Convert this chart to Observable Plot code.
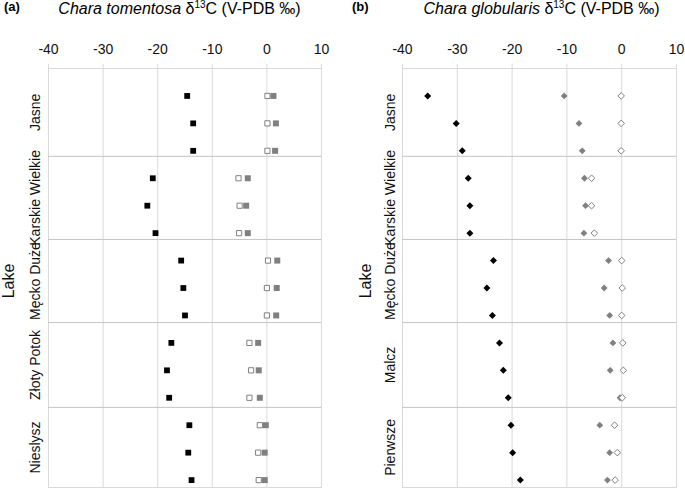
<!DOCTYPE html>
<html><head><meta charset="utf-8">
<script src="https://cdn.jsdelivr.net/npm/d3@7"></script>
<script src="https://cdn.jsdelivr.net/npm/@observablehq/plot@0.6"></script>
<style>
body{margin:0;background:#fff;font-family:"Liberation Sans",Arial,sans-serif;color:#000;}
#wrap{position:relative;width:685px;height:491px;overflow:hidden;background:#fff;}
.lab{position:absolute;font-weight:bold;font-size:13px;line-height:13px;}
.ttl{position:absolute;font-size:16px;line-height:16px;text-align:center;width:320px;white-space:nowrap;}
.ttl .sup{font-size:10px;position:relative;top:-6px;}
.panel{position:absolute;top:24px;}
</style></head><body>
<div id="wrap"></div>
<script>
// ---- data ----
const panelLabels = ["(a)", "(b)"];
const species = ["Chara tomentosa", "Chara globularis"];
const titleRest = "δ13C (V-PDB ‰)";
const lakeTitle = "Lake";
const lakesA = ["Jasne", "Karskie Wielkie", "Męcko Duże", "Złoty Potok", "Nieslysz"];
const lakesB = ["Jasne", "Karskie Wielkie", "Męcko Duże", "Malcz", "Pierwsze"];
const xTicks = [-40, -30, -20, -10, 0, 10];
// Chara tomentosa (three samples per lake)
const tomBlack = [-14.6, -13.5, -13.5, -20.9, -21.9, -20.4, -15.7, -15.3, -15.0, -17.5, -18.3, -17.9, -14.2, -14.4, -13.8];
const tomGray  = [1.2, 1.65, 1.5, -3.5, -3.8, -3.5, 1.9, 1.8, 1.7, -1.6, -1.5, -1.3, -0.2, -0.4, -0.4];
const tomWhite = [0.1, 0.1, 0.1, -5.2, -5.0, -5.1, 0.2, 0.0, 0.0, -3.2, -2.9, -3.2, -1.3, -1.6, -1.5];
// Chara globularis
const gloBlack = [-35.4, -30.2, -29.1, -28.0, -27.7, -27.7, -23.4, -24.6, -23.6, -22.3, -21.6, -20.7, -20.2, -19.9, -18.5];
const gloGray  = [-10.5, -7.8, -7.2, -6.8, -6.6, -6.9, -2.4, -3.2, -2.2, -1.6, -2.1, -0.3, -4.0, -2.2, -2.6];
const gloWhite = [-0.1, -0.1, -0.1, -5.5, -5.5, -5.0, 0.0, 0.1, 0.0, 0.2, 0.3, 0.1, -1.3, -0.8, -1.2];
// y layout in sample-row units: band edges between lakes
const lakeEdges = [-1, 2.2, 5.23, 8.26, 11.35, 14.27];

// ---- symbols ----
const squareSym = (half) => ({draw(ctx){ ctx.moveTo(-half,-half); ctx.lineTo(half,-half); ctx.lineTo(half,half); ctx.lineTo(-half,half); ctx.closePath(); }});
const diamondSym = (h) => ({draw(ctx){ ctx.moveTo(0,-h); ctx.lineTo(h,0); ctx.lineTo(0,h); ctx.lineTo(-h,0); ctx.closePath(); }});

const GRAY = "#808080";
const GRID = "#d9d9d9";
const SEP = "#c4c4c4";

function panel(o) {
  const rows = d3.range(o.black.length).map(i => ({i, black: o.black[i], gray: o.gray[i], white: o.white[i]}));
  const bands = o.lakes.map((name, k) => ({name, y: (lakeEdges[k] + lakeEdges[k + 1]) / 2}));
  const mid = (lakeEdges[0] + lakeEdges[lakeEdges.length - 1]) / 2;
  const whiteMark = Plot.dot(rows, {x: "white", y: "i", symbol: o.symW, r: 3, fill: "#fff", stroke: GRAY, strokeWidth: 1});
  const grayMark = Plot.dot(rows, {x: "gray", y: "i", symbol: o.symG, r: 3, fill: GRAY, stroke: "none"});
  return Plot.plot({
    width: o.width, height: 467,
    marginLeft: o.marginLeft, marginRight: o.marginRight, marginTop: 44, marginBottom: 4,
    style: {fontFamily: '"Liberation Sans", Arial, sans-serif', fontSize: "14px", background: "#fff", color: "#000"},
    x: {domain: [-40, 10], axis: null},
    y: {domain: [lakeEdges[0], lakeEdges[lakeEdges.length - 1]], reverse: true, axis: null},
    marks: [
      Plot.ruleX(xTicks, {stroke: GRID, strokeWidth: 1, insetTop: -4}),
      Plot.frame({stroke: GRID}),
      Plot.ruleY(lakeEdges.slice(1, -1), {stroke: SEP, strokeWidth: 1}),
      Plot.axisX({anchor: "top", ticks: xTicks, tickSize: 0, tickPadding: 15, fontSize: 14, fill: "#111", tickFormat: d => String(d).replace("−", "-")}),
      Plot.text(bands, {x: () => -40, y: "y", text: "name", rotate: -90, dx: o.lakeDx, fontSize: 14, fill: "#111"}),
      Plot.text([lakeTitle], {x: () => -40, y: () => mid, text: d => d, rotate: -90, dx: o.titleDx, dy: 3, fontSize: 16, fill: "#111"}),
      Plot.dot(rows, {x: "black", y: "i", symbol: o.symB, r: 3, fill: "#000", stroke: "none"}),
      ...(o.grayOnTop ? [whiteMark, grayMark] : [grayMark, whiteMark])
    ]
  });
}

const wrap = document.getElementById("wrap");
function addDiv(cls, style, html) { const d = document.createElement("div"); d.className = cls; d.setAttribute("style", style); d.innerHTML = html; wrap.appendChild(d); }
const titleHtml = (sp) => `<i>${sp}</i> ${titleRest.replace("13", '<span class="sup">13</span>')}`;
addDiv("lab", "left:4px;top:0px", panelLabels[0]);
addDiv("lab", "left:352px;top:0px", panelLabels[1]);
addDiv("ttl", "left:19.5px;top:0.5px", titleHtml(species[0]));
addDiv("ttl", "left:381.5px;top:0.5px", titleHtml(species[1]));

const pa = panel({lakes: lakesA, black: tomBlack, gray: tomGray, white: tomWhite,
  symB: squareSym(2.9), symG: squareSym(3), symW: squareSym(2.6),
  width: 340, marginLeft: 48, marginRight: 19, lakeDx: -13, titleDx: -40, grayOnTop: true});
pa.classList.add("panel"); pa.style.left = "0px";
wrap.appendChild(pa);

const pb = panel({lakes: lakesB, black: gloBlack, gray: gloGray, white: gloWhite,
  symB: diamondSym(3.5), symG: diamondSym(3.4), symW: diamondSym(3.3),
  width: 345, marginLeft: 62, marginRight: 9, lakeDx: -12, titleDx: -37, grayOnTop: false});
pb.classList.add("panel"); pb.style.left = "340px";
wrap.appendChild(pb);
</script>
</body></html>
